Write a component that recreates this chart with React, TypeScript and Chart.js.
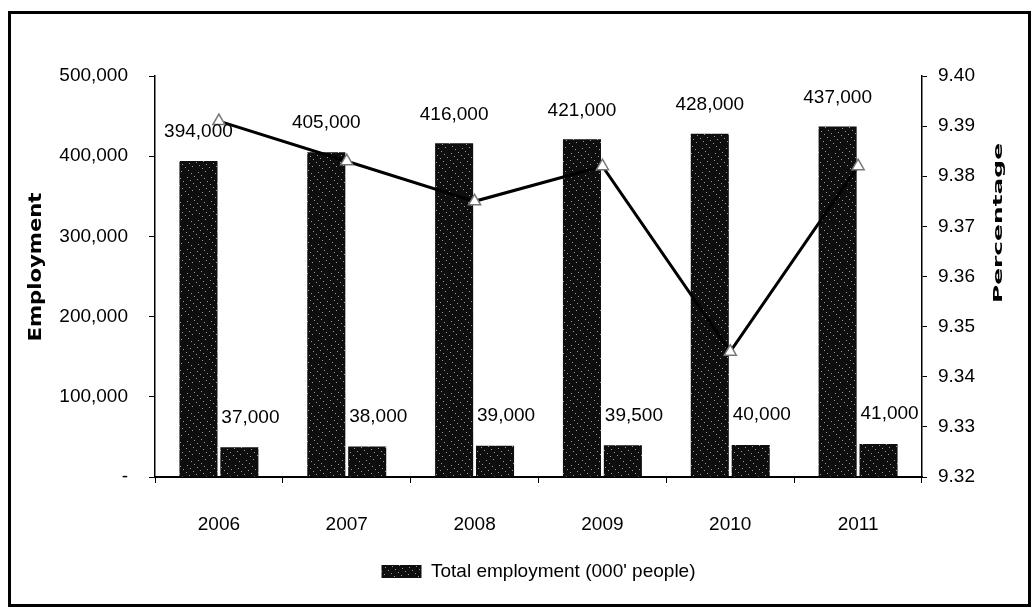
import React, { useEffect, useRef } from "react";
import { Chart, registerables } from "chart.js";

Chart.register(...registerables);

const years = ["2006", "2007", "2008", "2009", "2010", "2011"];
const totalEmployment = [394000, 405000, 416000, 421000, 428000, 437000];
const sectorEmployment = [37000, 38000, 39000, 39500, 40000, 41000];
const percentage = [9.391, 9.383, 9.375, 9.382, 9.345, 9.382];

const FAMILY = "'Liberation Sans', Arial, sans-serif";
const FS = 19;
const fmt = (v: number) => v.toLocaleString("en-US");

function makePattern(): CanvasPattern | string {
  const c = document.createElement("canvas");
  c.width = 24;
  c.height = 24;
  const g = c.getContext("2d");
  if (!g) return "#111";
  g.fillStyle = "#0e0e0e";
  g.fillRect(0, 0, 24, 24);
  g.fillStyle = "#9a9a9a";
  for (let i = 0; i < 22; i++) {
    const x = (i * 37 + 5) % 24;
    const y = (i * 53 + 11) % 24;
    g.fillRect(x, y, 1, 1);
  }
  const p = g.createPattern(c, "repeat");
  return p || "#111";
}

const labelsPlugin = {
  id: "valueLabels",
  afterDatasetsDraw(chart: any) {
    const ctx = chart.ctx;
    ctx.save();
    ctx.fillStyle = "#000";
    ctx.font = `${FS}px ${FAMILY}`;
    ctx.textBaseline = "middle";
    const m0 = chart.getDatasetMeta(0);
    m0.data.forEach((bar: any, i: number) => {
      ctx.textAlign = "center";
      ctx.fillText(fmt(totalEmployment[i]), bar.x, bar.y - 29);
    });
    const m1 = chart.getDatasetMeta(1);
    m1.data.forEach((bar: any, i: number) => {
      ctx.textAlign = "left";
      ctx.fillText(fmt(sectorEmployment[i]), bar.x - bar.width / 2 + 1, bar.y - 30);
    });
    ctx.restore();
  },
};

const titlesPlugin = {
  id: "axisTitles",
  afterDraw(chart: any) {
    const ctx = chart.ctx;
    const draw = (text: string, x: number, y: number, size: number, len: number) => {
      ctx.save();
      ctx.fillStyle = "#000";
      ctx.font = `bold ${size}px 'DejaVu Sans', sans-serif`;
      ctx.textAlign = "center";
      ctx.textBaseline = "middle";
      ctx.translate(x, y);
      ctx.rotate(-Math.PI / 2);
      const w = ctx.measureText(text).width;
      ctx.scale(len / w, 1);
      ctx.fillText(text, 0, 0);
      ctx.restore();
    };
    draw("Employment", 36, 267, 18, 149);
    draw("Percentage", 999, 223, 13, 160);
  },
};

export default function App() {
  const ref = useRef<HTMLCanvasElement>(null);

  useEffect(() => {
    const canvas = ref.current;
    if (!canvas) return;
    const pattern = makePattern();
    const chart = new Chart(canvas, {
      type: "bar",
      data: {
        labels: years,
        datasets: [
          {
            label: "Total employment (000' people)",
            data: totalEmployment,
            yAxisID: "y",
            backgroundColor: pattern as any,
            borderWidth: 0,
            categoryPercentage: 0.64,
            barPercentage: 0.93,
            order: 1,
          },
          {
            label: "Sector employment (000' people)",
            data: sectorEmployment,
            yAxisID: "y",
            backgroundColor: pattern as any,
            borderWidth: 0,
            categoryPercentage: 0.64,
            barPercentage: 0.93,
            order: 2,
          },
          {
            type: "line",
            label: "Percentage",
            data: percentage,
            yAxisID: "y2",
            borderColor: "#000",
            borderWidth: 3,
            pointStyle: "triangle",
            pointRadius: 7,
            pointBackgroundColor: "#fff",
            pointBorderColor: "#777",
            pointBorderWidth: 1.5,
            order: 0,
          } as any,
        ],
      },
      options: {
        responsive: false,
        devicePixelRatio: 1,
        animation: false,
        layout: { padding: { top: 76, bottom: 19, left: 0, right: 0 } },
        plugins: {
          tooltip: { enabled: false },
          legend: {
            position: "bottom",
            fullSize: false,
            labels: {
              boxWidth: 40,
              boxHeight: 13,
              padding: 10,
              color: "#000",
              font: { family: FAMILY, size: FS },
              filter: (item: any) => item.text === "Total employment (000' people)",
            },
          },
        },
        scales: {
          x: {
            grid: {
              display: true,
              drawOnChartArea: false,
              drawTicks: true,
              tickLength: 6,
              color: "#000",
              offset: true,
            },
            border: { display: true, color: "#000", width: 2 },
            ticks: {
              color: "#000",
              font: { family: FAMILY, size: FS },
              padding: 30,
              autoSkip: false,
              maxRotation: 0,
            },
            afterFit: (s: any) => {
              s.height = 75;
            },
          },
          y: {
            position: "left",
            min: 0,
            max: 500000,
            grid: { drawOnChartArea: false, tickLength: 6, color: "#000" },
            border: { display: true, color: "#000", width: 1.5 },
            ticks: {
              stepSize: 100000,
              color: "#000",
              font: { family: FAMILY, size: FS },
              padding: 21,
              callback: (v: any) => (Number(v) === 0 ? "-" : fmt(Number(v))),
            },
            afterFit: (s: any) => {
              s.width = 155;
            },
          },
          y2: {
            position: "right",
            min: 9.32,
            max: 9.4,
            grid: { drawOnChartArea: false, tickLength: 5, color: "#000" },
            border: { display: true, color: "#000", width: 1.5 },
            ticks: {
              stepSize: 0.01,
              color: "#000",
              font: { family: FAMILY, size: FS },
              padding: 11,
              callback: (v: any) => Number(v).toFixed(2),
            },
            afterFit: (s: any) => {
              s.width = 111;
            },
          },
        },
      },
      plugins: [labelsPlugin, titlesPlugin],
    } as any);
    return () => chart.destroy();
  }, []);

  return (
    <div
      style={{
        position: "fixed",
        left: 0,
        top: 0,
        width: 1033,
        height: 610,
        background: "#fff",
      }}
    >
      <canvas
        ref={ref}
        width={1033}
        height={610}
        style={{ display: "block", width: 1033, height: 610 }}
      />
      <div
        style={{
          position: "absolute",
          left: 8,
          top: 11,
          width: 1023,
          height: 596,
          border: "3px solid #000",
          boxSizing: "border-box",
          pointerEvents: "none",
        }}
      />
    </div>
  );
}
